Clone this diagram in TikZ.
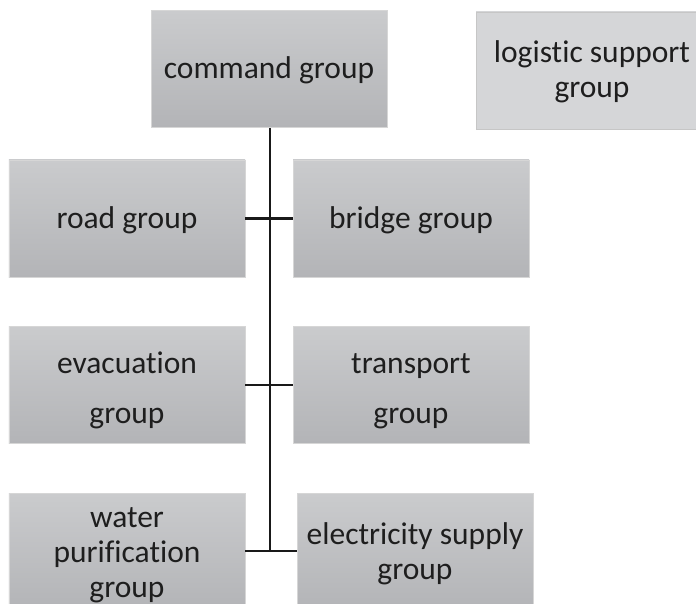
\documentclass[tikz,border=0pt]{standalone}
\usepackage{fontspec}
\setmainfont{Carlito}[Ligatures={NoCommon,NoContextual}]
\definecolor{boxtop}{HTML}{CACBCD}
\definecolor{boxbot}{HTML}{B3B4B7}
\definecolor{boxline}{HTML}{D6D6D6}
\definecolor{lightfill}{HTML}{D5D6D8}
\definecolor{lightline}{HTML}{C6C6C6}
\definecolor{txt}{HTML}{1E1E1E}
\newcommand\boxtext[1]{\raisebox{-3bp}[\height][\depth]{\begin{tabular}{@{}c@{}}#1\end{tabular}}}
\tikzset{
  unit/.style={draw=boxline, line width=0.8bp, top color=boxtop, bottom color=boxbot,
    minimum width=236bp, minimum height=117bp, inner sep=0pt,
    text=txt, font=\fontsize{31.5bp}{35bp}\selectfont},
  wide/.style={font=\fontsize{31.5bp}{50bp}\selectfont},
  support/.style={unit, top color=lightfill, bottom color=lightfill, draw=lightline,
    minimum width=232bp},
  link/.style={draw=black!90, line width=2.7bp}
}
\begin{document}
\begin{tikzpicture}[x=1bp,y=-1bp]
\useasboundingbox (0,0) rectangle (696,604);
\clip (0,0) rectangle (696,604);
\node[unit] (cmd) at (269,69) {\boxtext{command group}};
\node[support] (log) at (592,70.5) {\boxtext{logistic support\\group}};
\node[unit] (road) at (127,218.5) {\boxtext{road group}};
\node[unit] (bridge) at (411,218.5) {\boxtext{bridge group}};
\node[unit, wide] (evac) at (127,385) {\boxtext{evacuation\\group}};
\node[unit, wide] (trans) at (411,385) {\boxtext{transport\\group}};
\node[unit] (water) at (127,552) {\boxtext{water\\purification\\group}};
\node[unit] (elec) at (415,552) {\boxtext{electricity supply\\group}};
\coordinate (j1) at (270,218.5);
\coordinate (j2) at (270,385);
\coordinate (j3) at (270,551);
\draw[link] (cmd.south -| j1) -- (j3);
\draw[link] (road.east) -- (bridge.west);
\draw[link] (evac.east) -- (trans.west);
\draw[link] (water.east |- j3) -- (elec.west |- j3);
\end{tikzpicture}
\end{document}
